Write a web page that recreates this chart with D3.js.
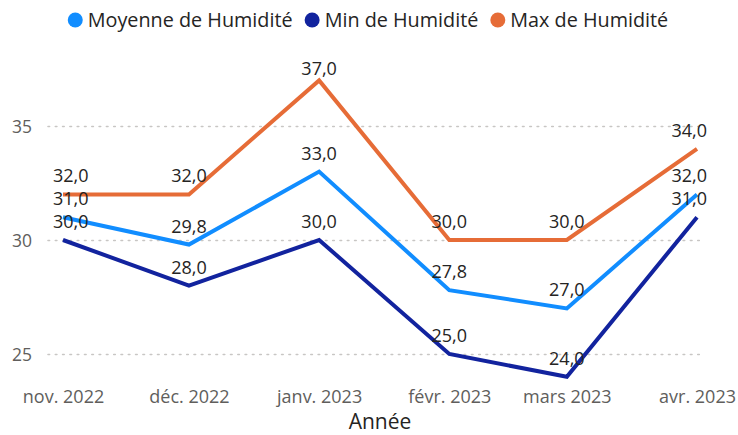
<!DOCTYPE html>
<html>
<head>
<meta charset="utf-8">
<script src="https://cdn.jsdelivr.net/npm/d3@7/dist/d3.min.js"></script>
<style>
  body { margin: 0; background: #fff; }
  svg { font-family: "Open Sans", "Noto Sans", sans-serif; display: block; }
  .grid line { stroke: #c8c6c4; stroke-width: 1.6; stroke-dasharray: 1.6 5.7; stroke-linecap: round; }
  .grid .domain { display: none; }
  .tick-label { fill: #605e5c; }
</style>
</head>
<body>
<div id="chart"></div>
<script>
// data
var months = [
  new Date(2022, 10, 1),
  new Date(2022, 11, 1),
  new Date(2023, 0, 1),
  new Date(2023, 1, 1),
  new Date(2023, 2, 1),
  new Date(2023, 3, 1)
];
var monthLabels = ['nov. 2022', 'déc. 2022', 'janv. 2023', 'févr. 2023', 'mars 2023', 'avr. 2023'];
var moyenne = [31.0, 29.8, 33.0, 27.8, 27.0, 32.0];
var minimum = [30.0, 28.0, 30.0, 25.0, 24.0, 31.0];
var maximum = [32.0, 32.0, 37.0, 30.0, 30.0, 34.0];
var yTicks = [25, 30, 35];

var seriesNames = ['Moyenne de Humidité', 'Min de Humidité', 'Max de Humidité'];
var seriesColors = ['#118dff', '#12239e', '#e66c37'];

var series = [
  { name: seriesNames[0], color: seriesColors[0], values: moyenne },
  { name: seriesNames[1], color: seriesColors[1], values: minimum },
  { name: seriesNames[2], color: seriesColors[2], values: maximum }
];

var W = 738, H = 435;
var plotLeft = 48, plotRight = 704, plotTop = 62;

var svg = d3.select('#chart').append('svg')
  .attr('width', W)
  .attr('height', H);

var x = d3.scaleTime()
  .domain([months[0], months[months.length - 1]])
  .range([63, 697]);

var y = d3.scaleLinear()
  .domain([25, 35])
  .range([354, 126]);

// y gridlines + labels
var yAxis = svg.append('g')
  .attr('class', 'grid')
  .attr('transform', 'translate(' + plotLeft + ',0)')
  .call(d3.axisLeft(y)
    .tickValues(yTicks)
    .tickSize(-(plotRight - plotLeft))
    .tickPadding(16)
    .tickFormat(d3.format('d')));

yAxis.selectAll('text')
  .attr('class', 'tick-label')
  .style('font-size', '17.5px')
  .style('font-family', '"Open Sans", sans-serif')
  .attr('dy', '0.36em');

// x axis labels
var xAxis = svg.append('g')
  .attr('transform', 'translate(0,384)')
  .call(d3.axisBottom(x)
    .tickValues(months)
    .tickSize(0)
    .tickPadding(0)
    .tickFormat(function (d, i) { return monthLabels[i]; }));

xAxis.select('.domain').remove();
xAxis.selectAll('text')
  .attr('class', 'tick-label')
  .attr('y', 19)
  .attr('dy', 0)
  .style('font-size', '18px')
  .style('font-family', '"Open Sans", sans-serif');

// axis title
svg.append('text')
  .attr('x', 380)
  .attr('y', 429)
  .attr('text-anchor', 'middle')
  .style('font-size', '21px')
  .style('fill', '#252423')
  .text('Année');

// lines
var line = d3.line()
  .x(function (d, i) { return x(months[i]); })
  .y(function (d) { return y(d); });

svg.selectAll('path.series')
  .data(series)
  .enter()
  .append('path')
  .attr('class', 'series')
  .attr('fill', 'none')
  .attr('stroke', function (d) { return d.color; })
  .attr('stroke-width', 4)
  .attr('d', function (d) { return line(d.values); });

// data labels
var fmt = function (v) { return d3.format('.1f')(v).replace('.', ','); };
var labelData = [];
series.forEach(function (s) {
  s.values.forEach(function (v, i) {
    labelData.push({ v: v, i: i });
  });
});

svg.selectAll('text.dlabel')
  .data(labelData)
  .enter()
  .append('text')
  .attr('class', 'dlabel')
  .attr('text-anchor', 'middle')
  .style('font-size', '18px')
  .style('fill', '#252423')
  .attr('y', function (d) { return Math.max(y(d.v) - 12, plotTop + 13); })
  .attr('x', function (d) { return x(months[d.i]); })
  .text(function (d) { return fmt(d.v); })
  .each(function () {
    // keep labels inside the plot area
    var w = this.getComputedTextLength();
    var cx = +d3.select(this).attr('x');
    if (cx - w / 2 < 53) cx = 53 + w / 2;
    if (cx + w / 2 > 707) cx = 707 - w / 2;
    d3.select(this).attr('x', cx);
  });

// legend
var legend = svg.append('g');
var lx = 0;
series.forEach(function (s, i) {
  var g = legend.append('g').attr('transform', 'translate(' + lx + ',0)');
  g.append('circle')
    .attr('cx', 7.5)
    .attr('cy', 20)
    .attr('r', 7.5)
    .attr('fill', s.color);
  var t = g.append('text')
    .attr('x', 20)
    .attr('y', 27)
    .style('font-size', '19.8px')
    .style('fill', '#252423')
    .text(s.name);
  lx += 20 + t.node().getComputedTextLength() + 12;
});
var legendW = lx - 12;
legend.attr('transform', 'translate(' + ((W - legendW) / 2 - 1) + ',0)');
</script>
</body>
</html>
